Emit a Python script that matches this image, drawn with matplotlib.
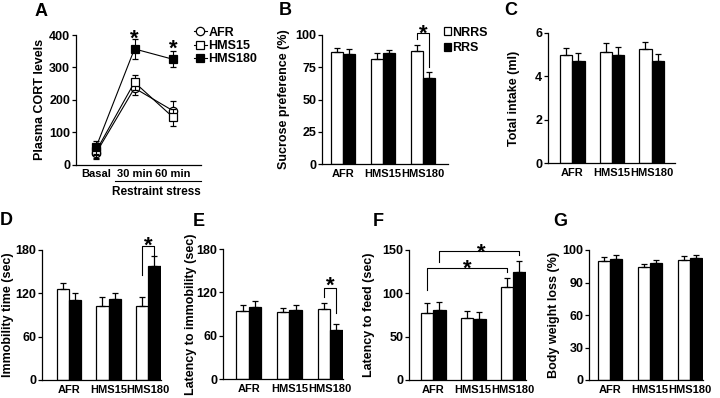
import matplotlib
matplotlib.use('Agg')
import matplotlib.pyplot as plt
from matplotlib.patches import Patch
from matplotlib.lines import Line2D
import numpy as np

plt.rcParams['font.family'] = ['Liberation Sans', 'DejaVu Sans']
plt.rcParams['font.weight'] = 'bold'
plt.rcParams['font.size'] = 9

# ---------------- data ----------------
time_points = ['Basal', '30 min', '60 min']
cort_afr = [35, 236, 166]
cort_afr_err = [18, 21, 29]
cort_hms15 = [41, 254, 146]
cort_hms15_err = [22, 23, 26]
cort_hms180 = [53, 357, 325]
cort_hms180_err = [20, 30, 25]

groups = ['AFR', 'HMS15', 'HMS180']
sucrose_nrrs = [87, 81, 87.5]
sucrose_nrrs_err = [3, 5, 4.4]
sucrose_rrs = [85, 85.5, 66.4]
sucrose_rrs_err = [3.7, 2.6, 4.6]

intake_nrrs = [4.98, 5.10, 5.25]
intake_nrrs_err = [0.30, 0.44, 0.31]
intake_rrs = [4.70, 4.96, 4.70]
intake_rrs_err = [0.35, 0.40, 0.32]

immob_nrrs = [125.5, 102.5, 102.5]
immob_nrrs_err = [8.5, 12, 12]
immob_rrs = [110.8, 111.7, 158.3]
immob_rrs_err = [9.2, 9.2, 13.4]

latimm_nrrs = [94.3, 92.5, 96.7]
latimm_nrrs_err = [8.5, 6.3, 9]
latimm_rrs = [100.3, 95.7, 68.1]
latimm_rrs_err = [8.3, 7.1, 8.4]

feed_nrrs = [77.7, 71.9, 107]
feed_nrrs_err = [10.8, 7.7, 11]
feed_rrs = [80.8, 70, 125]
feed_rrs_err = [9.5, 8.8, 12.7]

bw_nrrs = [91.5, 87.2, 92.1]
bw_nrrs_err = [3.3, 1.8, 3.3]
bw_rrs = [93.3, 89.7, 93.8]
bw_rrs_err = [2.9, 2.4, 2.4]

yt_cort = [0, 100, 200, 300, 400]
yt_sucrose = [0, 25, 50, 75, 100]
yt_intake = [0, 2, 4, 6]
yt_immob = [0, 60, 120, 180]
yt_latimm = [0, 60, 120, 180]
yt_feed = [0, 50, 100, 150]
yt_bw = [0, 25, 50, 75, 100]
yt_bw_labels = ['0', '30', '60', '90', '100']

# ---------------- layout ----------------
W, H = 720, 398
fig = plt.figure(figsize=(W / 100, H / 100), dpi=100)
fig.patch.set_facecolor('white')
LW = 0.9
BW = 0.31
XFS = 8
YFS = 9


def add_ax(l, r, t, b):
    return fig.add_axes([l / W, 1 - b / H, (r - l) / W, (b - t) / H])


def style(ax, ylabel, label_px, left_px, right_px):
    for s in ['top', 'right']:
        ax.spines[s].set_visible(False)
    for s in ['left', 'bottom']:
        ax.spines[s].set_linewidth(LW)
    ax.tick_params(axis='y', direction='out', length=3, width=LW, pad=1.2, labelsize=YFS)
    ax.tick_params(axis='x', length=0, pad=3.5, labelsize=XFS)
    ax.set_ylabel(ylabel, fontsize=YFS, fontweight='bold')
    ax.yaxis.set_label_coords((label_px + 7 - left_px) / (right_px - left_px), 0.5)


def star(ax, x, y, fs=16):
    ax.annotate('*', xy=(x, y), xytext=(0, -0.56 * fs), textcoords='offset points',
                ha='center', va='baseline', fontsize=fs, fontweight='bold',
                annotation_clip=False)


def bracket(ax, x1, x2, y, y1, y2):
    ax.plot([x1, x1, x2, x2], [y1, y, y, y2], color='black', lw=0.8, clip_on=False)


def bar_panel(ax, nv, ne, rv, re, yticks, xlim, ylabel, label_px, lpx, rpx, yticklabels=None):
    x = np.arange(len(groups))
    ax.bar(x - BW / 2, nv, BW, color='white', edgecolor='black', lw=LW, zorder=2)
    ax.bar(x + BW / 2, rv, BW, color='black', edgecolor='black', lw=LW, zorder=2)
    ax.errorbar(x - BW / 2, nv, yerr=[np.zeros(len(nv)), ne], fmt='none', ecolor='black',
                elinewidth=LW, capsize=2.4, capthick=LW, zorder=3)
    ax.errorbar(x + BW / 2, rv, yerr=[np.zeros(len(rv)), re], fmt='none', ecolor='black',
                elinewidth=LW, capsize=2.4, capthick=LW, zorder=3)
    ax.set_xlim(*xlim)
    ax.set_ylim(yticks[0], yticks[-1])
    ax.set_yticks(yticks)
    if yticklabels is not None:
        ax.set_yticklabels(yticklabels)
    ax.set_xticks(x)
    ax.set_xticklabels(groups)
    style(ax, ylabel, label_px, lpx, rpx)


# ---------------- Panel A ----------------
axA = add_ax(76, 200.7, 35, 164.5)
xt = np.arange(len(time_points))
common = dict(color='black', lw=0.8, ms=6, mec='black', mew=0.9, capsize=2.4,
              elinewidth=0.8, capthick=0.8)
axA.errorbar(xt, cort_afr, yerr=cort_afr_err, marker='o', mfc='white', zorder=3, **common)
axA.errorbar(xt, cort_hms15, yerr=cort_hms15_err, marker='s', mfc='white', zorder=4, **common)
axA.errorbar(xt, cort_hms180, yerr=cort_hms180_err, marker='s', mfc='black', zorder=5, **common)
axA.set_xlim(-0.52, 2.72)
axA.set_ylim(0, 400)
axA.set_yticks(yt_cort)
axA.set_xticks(xt)
axA.set_xticklabels(time_points)
style(axA, 'Plasma CORT levels', 39, 76, 200.7)
star(axA, 1, 408)
star(axA, 2, 376)
axA.plot([0.31, 1.0], [-0.127, -0.127], transform=axA.transAxes, color='black', lw=0.8, clip_on=False)
axA.text(0.645, -0.21, 'Restraint stress', transform=axA.transAxes, ha='center', va='center',
         fontsize=8.5, fontweight='bold')
hA = [Line2D([], [], color='black', lw=0.8, marker='o', ms=6, mfc='white', mec='black', mew=0.9),
      Line2D([], [], color='black', lw=0.8, marker='s', ms=6, mfc='white', mec='black', mew=0.9),
      Line2D([], [], color='black', lw=0.8, marker='s', ms=6, mfc='black', mec='black', mew=0.9)]
fig.legend(hA, ['AFR', 'HMS15', 'HMS180'], loc='upper left', bbox_to_anchor=(194 / W, 1 - 26.5 / H),
           frameon=False, handlelength=1.0, handletextpad=0.15, labelspacing=0.12, borderpad=0,
           borderaxespad=0, fontsize=9)

# ---------------- Panel B ----------------
axB = add_ax(322, 447.7, 34.7, 164.3)
bar_panel(axB, sucrose_nrrs, sucrose_nrrs_err, sucrose_rrs, sucrose_rrs_err, yt_sucrose,
          (-0.525, 2.62), 'Sucrose preference (%)', 283, 322, 447.7)
bracket(axB, 2 - BW / 2, 2 + BW / 2, 101.5, 96.7, 75.3)
star(axB, 2, 105.5)
hB = [Patch(facecolor='white', edgecolor='black', lw=LW), Patch(facecolor='black', edgecolor='black', lw=LW)]
fig.legend(hB, ['NRRS', 'RRS'], loc='upper left', bbox_to_anchor=(444 / W, 1 - 26.5 / H),
           frameon=False, handlelength=0.55, handleheight=0.55, handletextpad=0.1, labelspacing=0.3,
           borderpad=0, borderaxespad=0, fontsize=9)

# ---------------- Panel C ----------------
axC = add_ax(548, 675, 32.7, 163.3)
bar_panel(axC, intake_nrrs, intake_nrrs_err, intake_rrs, intake_rrs_err, yt_intake,
          (-0.61, 2.59), 'Total intake (ml)', 513, 548, 675)

# ---------------- Panel D ----------------
axD = add_ax(42.3, 161, 250, 380)
bar_panel(axD, immob_nrrs, immob_nrrs_err, immob_rrs, immob_rrs_err, yt_immob,
          (-0.67, 2.32), 'Immobility time (sec)', 7, 42.3, 161)
bracket(axD, 2 - BW / 2, 2 + BW / 2, 185.5, 145.4, 172.5)
star(axD, 2, 195.5)

# ---------------- Panel E ----------------
axE = add_ax(223.3, 342.7, 249, 379.3)
bar_panel(axE, latimm_nrrs, latimm_nrrs_err, latimm_rrs, latimm_rrs_err, yt_latimm,
          (-0.63, 2.31), 'Latency to immobility (sec)', 190, 223.3, 342.7)
bracket(axE, 2 - BW / 2, 2 + BW / 2, 126.7, 114.2, 92.1)
star(axE, 2, 138.3)

# ---------------- Panel F ----------------
axF = add_ax(409.3, 526, 250, 380)
bar_panel(axF, feed_nrrs, feed_nrrs_err, feed_rrs, feed_rrs_err, yt_feed,
          (-0.6, 2.32), 'Latency to feed (sec)', 368, 409.3, 526)
bracket(axF, 0 - BW / 2, 2 - BW / 2, 129.6, 103.8, 124.3)
star(axF, 1 - BW / 2, 135.8)
bracket(axF, 0 + BW / 2, 2 + BW / 2, 148.8, 136.5, 144.2)
star(axF, 1 + BW / 2 + 0.05, 153.8)

# ---------------- Panel G ----------------
axG = add_ax(589.3, 702.7, 250, 380)
bar_panel(axG, bw_nrrs, bw_nrrs_err, bw_rrs, bw_rrs_err, yt_bw,
          (-0.52, 2.32), 'Body weight loss (%)', 553, 589.3, 702.7, yticklabels=yt_bw_labels)

# ---------------- panel letters ----------------
for letter, (px, py) in zip('ABCDEFG', [(40.7, 11), (285.5, 10.5), (511, 10.5), (6, 220.5),
                                        (199, 222), (378, 222), (560, 222)]):
    fig.text(px / W, 1 - py / H, letter, ha='center', va='center', fontsize=13, fontweight='bold')

fig.savefig('out.png', dpi=100, facecolor='white')
